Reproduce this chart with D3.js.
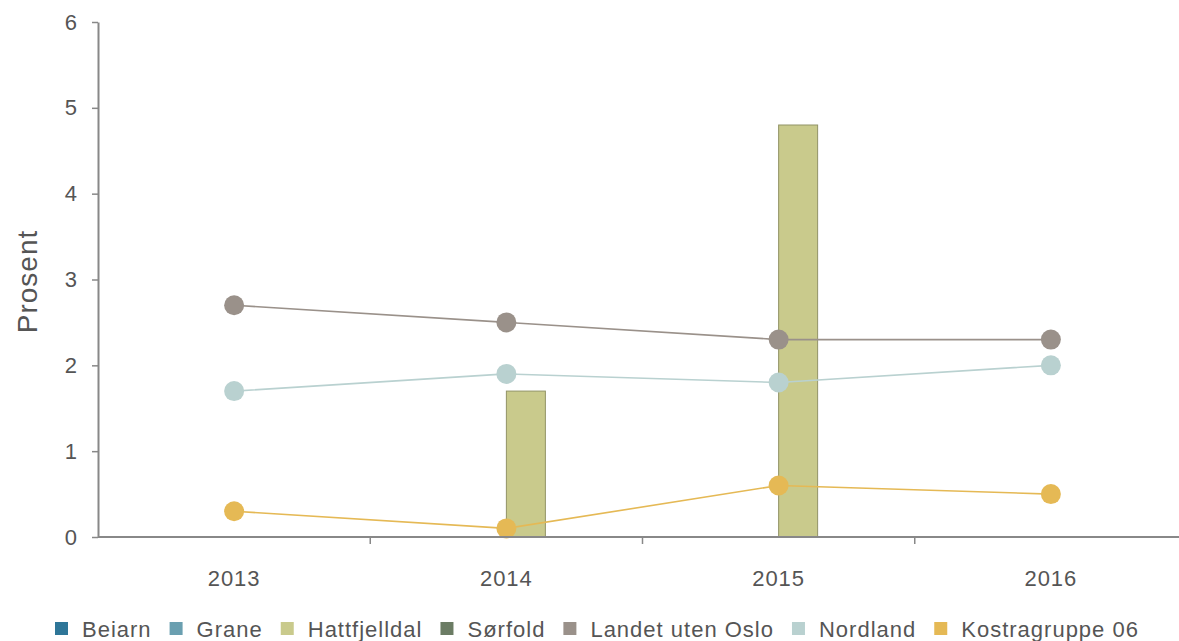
<!DOCTYPE html>
<html>
<head>
<meta charset="utf-8">
<script src="https://cdn.jsdelivr.net/npm/d3@7"></script>
<style>
    body { margin: 0; background: #fff; }
    text { font-family: "Liberation Sans", Arial, sans-serif; fill: #555; }
</style>
</head>
<body>
<div id="chart"></div>
<script>
// Chart data
const years = ["2013", "2014", "2015", "2016"];
const barSeries = ["Beiarn", "Grane", "Hattfjelldal", "Sørfold"];
const lineSeries = ["Landet uten Oslo", "Nordland", "Kostragruppe 06"];
const beiarn = [null, null, null, null];
const grane = [null, null, null, null];
const hattfjelldal = [null, 1.7, 4.8, null];
const sorfold = [null, null, null, null];
const landetUtenOslo = [2.7, 2.5, 2.3, 2.3];
const nordland = [1.7, 1.9, 1.8, 2.0];
const kostragruppe06 = [0.3, 0.1, 0.6, 0.5];
const yTicks = [0, 1, 2, 3, 4, 5, 6];

const colors = {
    "Beiarn": "#2e7698",
    "Grane": "#6a9fb0",
    "Hattfjelldal": "#c9ca8c",
    "Sørfold": "#6b7c64",
    "Landet uten Oslo": "#9a918a",
    "Nordland": "#b9d1d0",
    "Kostragruppe 06": "#e5b955"
};

const barValues = { "Beiarn": beiarn, "Grane": grane, "Hattfjelldal": hattfjelldal, "Sørfold": sorfold };
const lineValues = { "Landet uten Oslo": landetUtenOslo, "Nordland": nordland, "Kostragruppe 06": kostragruppe06 };

const width = 1179, height = 641;
const margins = { top: 22, right: -8, bottom: 104, left: 98 };
const plotW = width - margins.left - margins.right;
const plotH = height - margins.top - margins.bottom;

const svg = d3.select("#chart").append("svg")
    .attr("width", width)
    .attr("height", height);

const g = svg.append("g")
    .attr("transform", `translate(${margins.left},${margins.top})`);

// Scales
const xScale = d3.scaleBand().domain(years).range([0, plotW]);
const x1Scale = d3.scaleBand().domain(barSeries).range([-78, 78]);
const yScale = d3.scaleLinear().domain([0, 6]).range([plotH, 0]);

// Bars
barSeries.forEach(s => {
    const pts = years.map((y, i) => ({ year: y, value: barValues[s][i] })).filter(d => d.value != null);
    g.selectAll(null)
        .data(pts)
        .enter().append("rect")
        .attr("x", d => xScale(d.year) + xScale.bandwidth() / 2 + x1Scale(s))
        .attr("width", x1Scale.bandwidth())
        .attr("y", d => yScale(d.value))
        .attr("height", d => plotH - yScale(d.value))
        .attr("fill", colors[s])
        .attr("stroke", d3.color(colors[s]).darker(0.9))
        .attr("stroke-width", 1);
});

// Lines and points
const line = d3.line()
    .x(d => xScale(d.year) + xScale.bandwidth() / 2)
    .y(d => yScale(d.value));

lineSeries.forEach(s => {
    const pts = years.map((y, i) => ({ year: y, value: lineValues[s][i] }));
    g.append("path")
        .datum(pts)
        .attr("fill", "none")
        .attr("stroke", colors[s])
        .attr("stroke-width", 1.6)
        .attr("d", line);
    g.selectAll(null)
        .data(pts)
        .enter().append("circle")
        .attr("cx", d => xScale(d.year) + xScale.bandwidth() / 2)
        .attr("cy", d => yScale(d.value))
        .attr("r", 10)
        .attr("fill", colors[s]);
});

// Y axis
const yAxis = g.append("g")
    .call(d3.axisLeft(yScale).tickValues(yTicks).tickFormat(d3.format("d"))
        .tickSize(6).tickPadding(14).tickSizeOuter(0));
yAxis.select(".domain").attr("stroke", "#888").attr("stroke-width", 2);
yAxis.selectAll(".tick line").attr("stroke", "#888").attr("stroke-width", 1.5);
yAxis.selectAll("text").style("font-size", "22px").style("letter-spacing", "1px");

// X axis, ticks on band boundaries
const xAxis = g.append("g")
    .attr("transform", `translate(0,${plotH})`);
xAxis.append("line")
    .attr("x1", 0).attr("x2", plotW)
    .attr("stroke", "#888").attr("stroke-width", 2);
xAxis.selectAll(".xtick")
    .data(years.slice(1))
    .enter().append("line")
    .attr("x1", d => xScale(d)).attr("x2", d => xScale(d))
    .attr("y1", 0).attr("y2", 7)
    .attr("stroke", "#888").attr("stroke-width", 1.5);
xAxis.selectAll(".xlabel")
    .data(years)
    .enter().append("text")
    .attr("x", d => xScale(d) + xScale.bandwidth() / 2)
    .attr("y", 49)
    .attr("text-anchor", "middle")
    .style("font-size", "22px")
    .style("letter-spacing", "1px")
    .text(d => d);

// Y label
svg.append("text")
    .attr("transform", `translate(37, ${margins.top + plotH / 2 + 2}) rotate(-90)`)
    .attr("text-anchor", "middle")
    .style("font-size", "28px")
    .style("letter-spacing", "1px")
    .text("Prosent");

// Legend
const legendItems = barSeries.concat(lineSeries);
const legend = svg.append("g").attr("transform", `translate(0, 637)`);
let lx = 55;
legendItems.forEach(s => {
    legend.append("rect")
        .attr("x", lx).attr("y", -15)
        .attr("width", 13).attr("height", 13)
        .attr("fill", colors[s]);
    const t = legend.append("text")
        .attr("x", lx + 27)
        .attr("y", 0)
        .style("font-size", "22px")
        .style("letter-spacing", "1px")
        .text(s);
    lx += 27 + t.node().getComputedTextLength() + 18;
});
</script>
</body>
</html>
